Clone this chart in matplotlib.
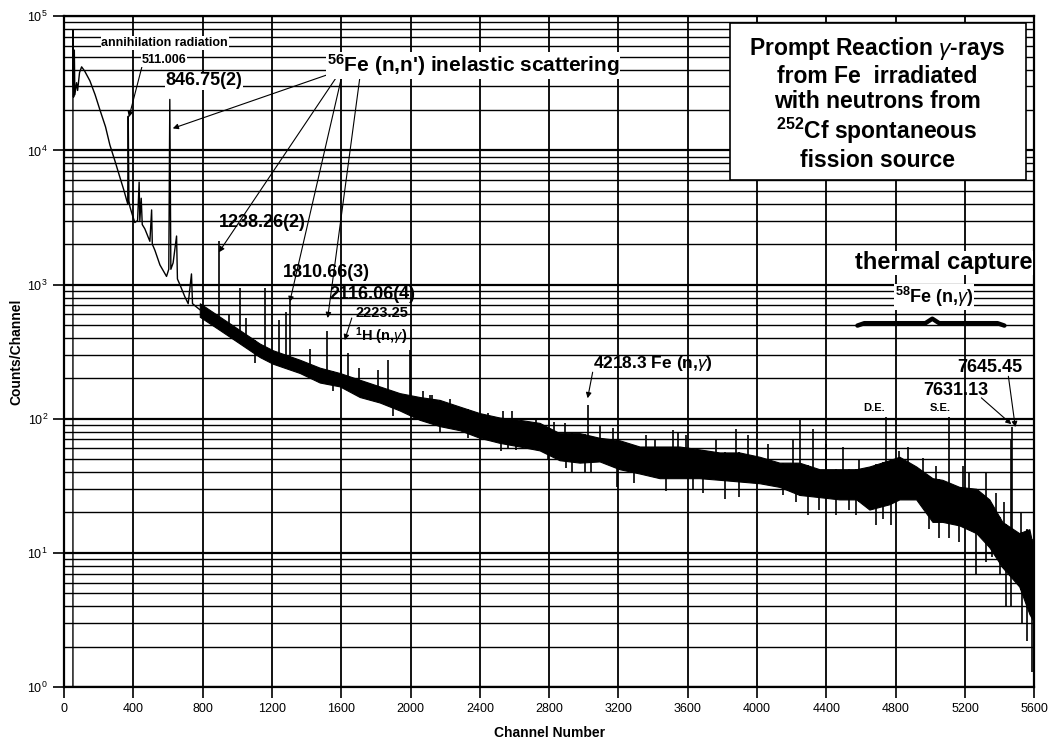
import numpy as np
import matplotlib.pyplot as plt
from matplotlib.patches import Rectangle
from matplotlib.ticker import LogLocator, NullFormatter

plt.rcParams['font.family'] = ['Liberation Sans', 'DejaVu Sans']
plt.rcParams['mathtext.fontset'] = 'custom'
plt.rcParams['mathtext.rm'] = 'Liberation Sans'
plt.rcParams['mathtext.bf'] = 'Liberation Sans:bold'
plt.rcParams['mathtext.it'] = 'Liberation Sans:italic'

# low channel part of the spectrum (single line)
low_ch = [52, 52, 56, 60, 63, 73, 79, 90, 102, 120, 150, 180, 208, 240, 265, 295,
          323, 345, 361, 368, 371, 375, 381, 395, 409, 425, 434, 438, 446, 452, 467,
          496, 506, 510, 525, 554, 592, 605, 611, 617, 630, 650, 655, 669, 698, 717,
          736, 742, 765, 784]
low_counts = [1.0, 7.9e4, 2.5e4, 5.6e4, 2.6e4, 3.2e4, 2.8e4, 3.8e4, 4.2e4, 3.9e4,
              3.3e4, 2.6e4, 2.0e4, 1.5e4, 1.1e4, 8.3e3, 6.3e3, 5.1e3, 4.3e3, 4.0e3,
              1.8e4, 4.2e3, 3.8e3, 3.3e3, 2.9e3, 3.0e3, 5.8e3, 3.0e3, 4.4e3, 2.8e3,
              2.6e3, 2.1e3, 3.6e3, 2.0e3, 1.8e3, 1.4e3, 1.15e3, 1.3e3, 2.4e4, 1.3e3,
              1.45e3, 2.3e3, 1.1e3, 1.0e3, 810, 720, 1.2e3, 720, 680, 650]

# noisy continuum above ~780 channels: lower / upper edge of the black band
band_ch = [784, 900, 1015, 1130, 1205, 1361, 1476, 1592, 1707, 1822, 1938, 2053,
           2168, 2284, 2399, 2514, 2630, 2745, 2860, 2976, 3091, 3206, 3322, 3437,
           3552, 3668, 3783, 3898, 4014, 4129, 4244, 4360, 4475, 4573, 4648, 4763,
           4821, 4918, 5012, 5069, 5167, 5265, 5340, 5415, 5513, 5571, 5600]
band_lo = [575, 457, 363, 288, 257, 219, 186, 174, 145, 132, 115, 98, 88, 82, 72,
           66, 62, 58, 49, 47, 48, 42, 39, 36, 36, 36, 35, 34, 33, 31, 27, 26, 25,
           25, 21, 23, 25, 25, 17, 17, 16, 14, 11, 7.8, 5.6, 3.5, 3]
band_hi = [725, 575, 457, 363, 324, 275, 240, 219, 195, 174, 155, 145, 138, 123,
           110, 102, 98, 93, 78, 78, 72, 69, 62, 62, 62, 59, 56, 56, 52, 47, 47, 42,
           42, 42, 44, 49, 52, 44, 36, 35, 31, 30, 25, 17, 14, 15, 10]

# peaks and upward spikes (channel, top)
up_ch = [893, 950, 1015, 1050, 1160, 1241, 1280, 1303, 1420, 1516, 1597, 1637, 1700,
         1812, 1868, 1995, 2070, 2110, 2122, 2225, 2351, 2447, 2533, 2583, 2725, 2830,
         2890, 3022, 3091, 3168, 3360, 3408, 3514, 3541, 3590, 3764, 3880, 3950, 4062,
         4206, 4250, 4320, 4398, 4494, 4590, 4746, 4821, 4869, 4955, 5031, 5110, 5187,
         5225, 5323, 5379, 5425, 5463, 5473, 5523, 5560]
up_top = [2100, 600, 950, 560, 950, 540, 620, 760, 330, 450, 400, 310, 240, 230, 275,
          325, 160, 150, 150, 140, 115, 110, 115, 115, 100, 95, 93, 126, 90, 85, 75,
          70, 83, 78, 75, 70, 84, 76, 65, 70, 98, 84, 65, 62, 50, 103, 57, 62, 51, 44,
          103, 44, 40, 40, 28, 24, 70, 87, 20, 15]

# downward spikes (channel, bottom)
dn_ch = [1100, 1550, 1900, 2168, 2330, 2525, 2560, 2610, 2795, 2900, 2930, 3005, 3040,
         3190, 3290, 3475, 3629, 3690, 3812, 3898, 4148, 4225, 4291, 4360, 4458, 4533,
         4572, 4688, 4725, 4773, 4994, 5052, 5110, 5167, 5265, 5323, 5357, 5400, 5438,
         5467, 5530, 5560, 5585]
dn_bot = [260, 160, 105, 78, 72, 57, 60, 58, 50, 43, 40, 40, 40, 31, 33, 29, 30, 28,
          25, 26, 27, 24, 19, 21, 19, 21, 19, 16, 18, 16, 15, 13, 13, 12, 6.8, 8.5, 9.3,
          7, 4, 4, 3, 2.2, 1.3]

x_ticks = list(range(0, 5601, 400))

fig = plt.figure(figsize=(10.48, 7.41), dpi=100)
ax = fig.add_axes([0.061, 0.073, 0.926, 0.905])
ax.set_yscale('log')
ax.set_xlim(0, 5600)
ax.set_ylim(1, 1e5)

ax.yaxis.set_major_locator(LogLocator(base=10, numticks=10))
ax.yaxis.set_minor_locator(LogLocator(base=10, subs=range(2, 10), numticks=20))
ax.yaxis.set_minor_formatter(NullFormatter())
ax.set_xticks(x_ticks)

ax.grid(True, which='major', axis='x', color='black', lw=1.3)
ax.grid(True, which='major', axis='y', color='black', lw=1.6)
ax.grid(True, which='minor', axis='y', color='black', lw=1.0)
ax.set_axisbelow(True)
for s in ax.spines.values():
    s.set_linewidth(1.6)

tick_font = ['Liberation Sans Narrow', 'Liberation Sans', 'DejaVu Sans']
ax.tick_params(axis='both', which='major', length=8, width=1.2, direction='out')
ax.tick_params(axis='y', which='minor', length=0)
for lab in ax.get_xticklabels() + ax.get_yticklabels():
    lab.set_family(tick_font)
    lab.set_fontsize(9)

# spectrum
ax.plot(low_ch, low_counts, color='black', lw=1.0, zorder=3)
ax.fill_between(band_ch, band_lo, band_hi, color='black', lw=0.8, zorder=3)
ax.vlines(up_ch, np.interp(up_ch, band_ch, band_lo), up_top, color='black', lw=1.2, zorder=3)
ax.vlines(dn_ch, dn_bot, np.interp(dn_ch, band_ch, band_hi), color='black', lw=1.2, zorder=3)

ax.set_xlabel('Channel Number', fontsize=10, fontweight='bold', labelpad=8)
ax.set_ylabel('Counts/Channel', fontsize=10, fontweight='bold', labelpad=3)

# title box
ax.add_patch(Rectangle((0.686, 0.756), 0.305, 0.234, transform=ax.transAxes,
                       facecolor='white', edgecolor='black', lw=1.2, zorder=5))
ax.text(0.838, 0.870,
        'Prompt Reaction $\\gamma$-rays\nfrom Fe  irradiated\nwith neutrons from\n'
        '$^{\\mathbf{252}}$Cf spontaneous\nfission source',
        transform=ax.transAxes, ha='center', va='center', fontsize=16.5,
        fontweight='bold', linespacing=1.14, zorder=6)

arrow = dict(arrowstyle='-|>', color='black', lw=0.8, mutation_scale=8, shrinkA=0, shrinkB=0)
bold = dict(fontweight='bold', zorder=6)
bg = dict(facecolor='white', edgecolor='none', pad=0.5)

ax.text(582, 6.3e4, 'annihilation radiation', ha='center', va='center', fontsize=9, bbox=bg, **bold)
ax.text(577, 4.7e4, '511.006', ha='center', va='center', fontsize=9, bbox=bg, **bold)
ax.annotate('', xy=(375, 1.77e4), xytext=(450, 4.2e4), arrowprops=arrow)
ax.text(807, 3.3e4, '846.75(2)', ha='center', va='center', fontsize=13, bbox=bg, **bold)

ax.text(1517, 4.3e4, "$^{\\mathbf{56}}$Fe (n,n') inelastic scattering", ha='left', va='center',
        fontsize=15, bbox=bg, **bold)
ax.annotate('', xy=(628, 1.46e4), xytext=(1563, 3.83e4), arrowprops=arrow)
ax.annotate('', xy=(894, 1.74e3), xytext=(1580, 3.63e4), arrowprops=arrow)
ax.annotate('', xy=(1303, 740), xytext=(1603, 3.56e4), arrowprops=arrow)
ax.annotate('', xy=(1522, 563), xytext=(1707, 3.45e4), arrowprops=arrow)

ax.text(1142, 2.92e3, '1238.26(2)', ha='center', va='center', fontsize=13, **bold)
ax.text(1517, 1.24e3, '1810.66(3)', ha='center', va='center', fontsize=13, **bold)
ax.text(1782, 848, '2116.06(4)', ha='center', va='center', fontsize=13, **bold)
ax.text(1834, 612, '2223.25', ha='center', va='center', fontsize=10.5, **bold)
ax.text(1828, 413, '$^{\\mathbf{1}}$H (n,$\\gamma$)', ha='center', va='center', fontsize=10.5, **bold)
ax.annotate('', xy=(1620, 385), xytext=(1661, 563), arrowprops=arrow)

ax.text(3051, 259, '4218.3 Fe (n,$\\gamma$)', ha='left', va='center', fontsize=12.5, **bold)
ax.annotate('', xy=(3022, 142), xytext=(3051, 222), arrowprops=arrow)

ax.text(5075, 1.45e3, 'thermal capture', ha='center', va='center', fontsize=17, bbox=bg, **bold)
ax.text(5023, 806, '$^{\\mathbf{58}}$Fe (n,$\\gamma$)', ha='center', va='center', fontsize=13,
        bbox=bg, **bold)

# curly brace under the thermal capture label
b_left, b_right, b_mid, b_y = 4579, 5427, 5011, 515
bx = [b_left, b_left + 40, b_mid - 40, b_mid, b_mid + 40, b_right - 40, b_right]
by = [b_y * 0.96, b_y, b_y, b_y * 1.08, b_y, b_y, b_y * 0.96]
ax.plot(bx, by, color='black', lw=3.2, solid_capstyle='round', zorder=6)

ax.text(5340, 242, '7645.45', ha='center', va='center', fontsize=13, **bold)
ax.text(5144, 163, '7631.13', ha='center', va='center', fontsize=13, **bold)
ax.annotate('', xy=(5490, 86.5), xytext=(5450, 207), arrowprops=arrow)
ax.annotate('', xy=(5467, 91), xytext=(5294, 143), arrowprops=arrow)
ax.text(4677, 120, 'D.E.', ha='center', va='center', fontsize=8, **bold)
ax.text(5058, 120, 'S.E.', ha='center', va='center', fontsize=8, **bold)

fig.savefig('out.png', dpi=100, facecolor='white')
